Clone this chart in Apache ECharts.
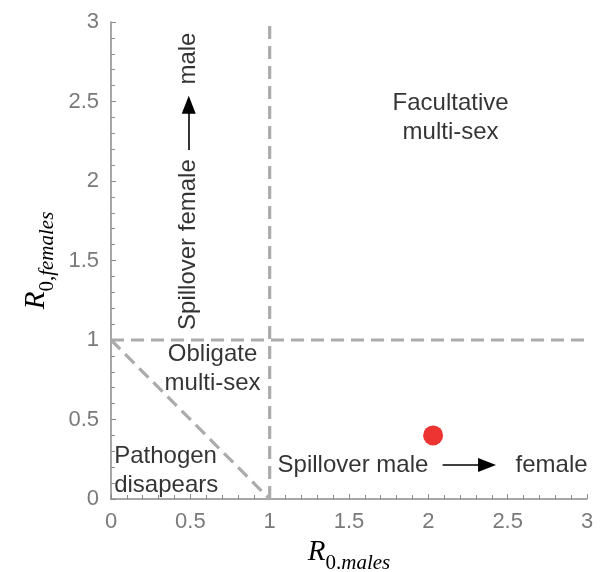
<!DOCTYPE html>
<html>
<head>
<meta charset="utf-8">
<script src="https://cdn.jsdelivr.net/npm/echarts@6/dist/echarts.min.js"></script>
<style>
  html, body { margin: 0; padding: 0; background: #fff; }
  #main { width: 602px; height: 572px; }
</style>
</head>
<body>
<div id="main"></div>
<script>
// region boundaries (dashed)
var hLine = [[0, 1], [3, 1]];
var vLine = [[1, 0], [1, 3]];
var diagLine = [[0, 1], [1, 0]];
// observed point
var point = [[2.03, 0.40]];
// region texts: [x, y, text]
var centerTexts = [
  [2.14, 2.40, 'Facultative\nmulti-sex'],
  [0.64, 0.82, 'Obligate\nmulti-sex']
];
var leftTexts = [
  [0.02, 0.18, 'Pathogen\ndisapears'],
  [1.05, 0.214, 'Spillover male'],
  [2.55, 0.214, 'female']
];
var vertTexts = [
  [0.49, 1.60, 'Spillover female'],
  [0.49, 2.77, 'male']
];
// arrows: [from, to]
var arrows = [
  [[2.09, 0.214], [2.37, 0.214]],
  [[0.49, 2.195], [0.49, 2.48]]
];

var chart = echarts.init(document.getElementById('main'));

var dashStyle = { color: '#ababab', width: 3.2, type: [13, 7] };
var txtFont = {
  fontFamily: 'Liberation Sans', fontSize: 24, color: '#000', lineHeight: 29,
  textBorderWidth: 0, textShadowBlur: 0
};

function dashSeries(d) {
  return {
    type: 'line', data: d, symbol: 'none', silent: true,
    lineStyle: dashStyle, z: 2
  };
}

var nameRich = {
  R: { fontFamily: 'Liberation Serif', fontStyle: 'italic', fontSize: 29, color: '#000', lineHeight: 36, verticalAlign: 'top' },
  z: { fontFamily: 'Liberation Serif', fontSize: 21, color: '#000', lineHeight: 28, verticalAlign: 'bottom' },
  s: { fontFamily: 'Liberation Serif', fontStyle: 'italic', fontSize: 21, color: '#000', lineHeight: 28, verticalAlign: 'bottom' }
};

var option = {
  animation: false,
  grid: { left: 111, right: 15, top: 22, bottom: 73, outerBoundsMode: 'none' },
  xAxis: {
    type: 'value', min: 0, max: 3, interval: 0.5,
    name: '{R|R}{z|0.}{s|males}',
    nameLocation: 'middle', nameGap: 26,
    nameTextStyle: { rich: nameRich },
    axisLine: { lineStyle: { color: '#8a8a8a', width: 1.5 } },
    axisTick: { inside: true, length: 5, lineStyle: { color: '#8a8a8a' } },
    minorTick: { show: true, splitNumber: 5, length: 4, lineStyle: { color: '#8a8a8a' } },
    splitLine: { show: false },
    axisLabel: { color: '#7a7a7a', fontSize: 22, fontFamily: 'Liberation Sans', margin: 12 }
  },
  yAxis: {
    type: 'value', min: 0, max: 3, interval: 0.5,
    name: '{R|R}{z|0,}{s|females}',
    nameLocation: 'middle', nameGap: 50, nameRotate: 90,
    nameTextStyle: { rich: nameRich },
    axisLine: { show: true, lineStyle: { color: '#8a8a8a', width: 1.5 } },
    axisTick: { show: true, inside: true, length: 5, lineStyle: { color: '#8a8a8a' } },
    minorTick: { show: true, splitNumber: 5, length: 4, lineStyle: { color: '#8a8a8a' } },
    splitLine: { show: false },
    axisLabel: { color: '#7a7a7a', fontSize: 22, fontFamily: 'Liberation Sans', margin: 12 }
  },
  series: [
    dashSeries(hLine),
    dashSeries(vLine),
    dashSeries(diagLine),
    {
      type: 'scatter', data: point, symbolSize: 20,
      itemStyle: { color: '#ea0000' }, z: 5
    },
    {
      type: 'scatter', symbolSize: 0, silent: true,
      data: centerTexts.map(function (t) { return { value: [t[0], t[1]], label: { formatter: t[2] } }; }),
      label: Object.assign({ show: true, position: 'inside', align: 'center', verticalAlign: 'middle' }, txtFont)
    },
    {
      type: 'scatter', symbolSize: 0, silent: true,
      data: leftTexts.map(function (t) { return { value: [t[0], t[1]], label: { formatter: t[2] } }; }),
      label: Object.assign({ show: true, position: 'inside', align: 'left', verticalAlign: 'middle' }, txtFont)
    },
    {
      type: 'scatter', symbolSize: 0, silent: true,
      data: vertTexts.map(function (t) { return { value: [t[0], t[1]], label: { formatter: t[2] } }; }),
      label: Object.assign({ show: true, position: 'inside', align: 'center', verticalAlign: 'middle', rotate: 90 }, txtFont)
    },
    {
      type: 'line', data: [], silent: true,
      markLine: {
        silent: true, animation: false,
        symbol: ['none', 'triangle'], symbolSize: [14, 18],
        label: { show: false },
        lineStyle: { color: '#000', width: 1.6, type: 'solid' },
        data: arrows.map(function (a) { return [{ coord: a[0] }, { coord: a[1] }]; })
      }
    }
  ]
};

chart.setOption(option);
</script>
</body>
</html>
